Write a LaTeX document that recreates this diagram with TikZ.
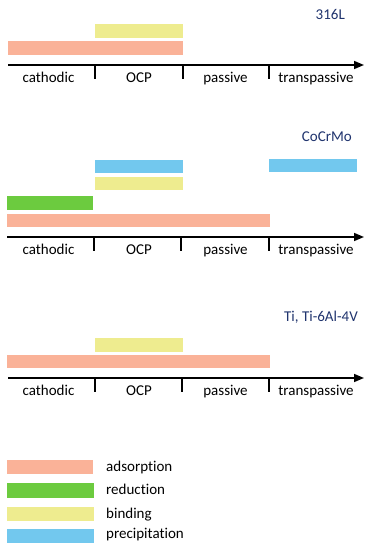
\documentclass[tikz,border=0pt]{standalone}
\usepackage{fontspec}
\setmainfont[Ligatures=NoCommon]{Carlito}
\usetikzlibrary{arrows.meta}
\definecolor{adsC}{RGB}{250,178,152}
\definecolor{redC}{RGB}{108,203,63}
\definecolor{binC}{RGB}{238,236,143}
\definecolor{preC}{RGB}{114,200,238}
\definecolor{navyC}{RGB}{32,52,110}
\tikzset{
  axisline/.style={line width=1.6pt,-{Triangle[length=10pt,width=8pt]}},
  tickmark/.style={line width=2.6pt},
  lbl/.style={anchor=base,inner sep=0pt,font=\fontsize{15}{18}\selectfont},
  ttl/.style={anchor=base east,inner sep=0pt,text=navyC,font=\fontsize{15}{18}\selectfont},
  leg/.style={anchor=base west,inner sep=0pt,font=\fontsize{15}{18}\selectfont},
  ads/.style={fill=adsC},
  red/.style={fill=redC},
  bin/.style={fill=binC},
  pre/.style={fill=preC},
}
\begin{document}
\begin{tikzpicture}[x=1pt,y=-1pt]
\useasboundingbox (0,0) rectangle (372,550);
% ---------- panel 1: 316L ----------
\node[ttl] (t1) at (345,19) {316L};
\fill[bin] (95,24) rectangle (183,38);
\fill[ads] (8,41) rectangle (183,55);
\coordinate (a1s) at (8,65);
\coordinate (a1e) at (364,65);
\draw[axisline] (a1s) -- (a1e);
\foreach \x [count=\i] in {95,183,269}{
  \coordinate (p1t\i) at (\x,65);
  \coordinate (p1b\i) at (\x,79);
  \draw[tickmark] (p1t\i) -- (p1b\i);
}
\node[lbl] (c1) at (48.5,82) {cathodic};
\node[lbl] (o1) at (139,82) {OCP};
\node[lbl] (s1) at (225.5,82) {passive};
\node[lbl] (r1) at (316,82) {transpassive};
% ---------- panel 2: CoCrMo ----------
\node[ttl] (t2) at (352,141.7) {CoCrMo};
\fill[pre] (95,160) rectangle (183,173);
\fill[pre] (269,159) rectangle (357,172);
\fill[bin] (95,177) rectangle (183,190);
\fill[red] (7,196) rectangle (93,210);
\fill[ads] (7,214) rectangle (270,227);
\coordinate (a2s) at (7,237);
\coordinate (a2e) at (364,237);
\draw[axisline] (a2s) -- (a2e);
\foreach \x [count=\i] in {94,181,269}{
  \coordinate (p2t\i) at (\x,237);
  \coordinate (p2b\i) at (\x,251);
  \draw[tickmark] (p2t\i) -- (p2b\i);
}
\node[lbl] (c2) at (48.5,254) {cathodic};
\node[lbl] (o2) at (139,254) {OCP};
\node[lbl] (s2) at (225.5,254) {passive};
\node[lbl] (r2) at (316,254) {transpassive};
% ---------- panel 3: Ti ----------
\node[ttl] (t3) at (358,321) {Ti, Ti-6Al-4V};
\fill[bin] (95,338) rectangle (183,352);
\fill[ads] (7,355) rectangle (270,368);
\coordinate (a3s) at (8,378);
\coordinate (a3e) at (364,378);
\draw[axisline] (a3s) -- (a3e);
\foreach \x [count=\i] in {95,182,269}{
  \coordinate (p3t\i) at (\x,378);
  \coordinate (p3b\i) at (\x,392);
  \draw[tickmark] (p3t\i) -- (p3b\i);
}
\node[lbl] (c3) at (48.5,395) {cathodic};
\node[lbl] (o3) at (139,395) {OCP};
\node[lbl] (s3) at (225.5,395) {passive};
\node[lbl] (r3) at (316,395) {transpassive};
% ---------- legend ----------
\fill[ads] (7,460) rectangle (93,474);
\fill[red] (7,483) rectangle (94,498);
\fill[bin] (7,507) rectangle (94,521);
\fill[pre] (7,529) rectangle (94,543);
\node[leg] (l1) at (106,471.5) {adsorption};
\node[leg] (l2) at (106,494) {reduction};
\node[leg] (l3) at (106,518) {binding};
\node[leg] (l4) at (106,538.5) {precipitation};
\end{tikzpicture}
\end{document}
